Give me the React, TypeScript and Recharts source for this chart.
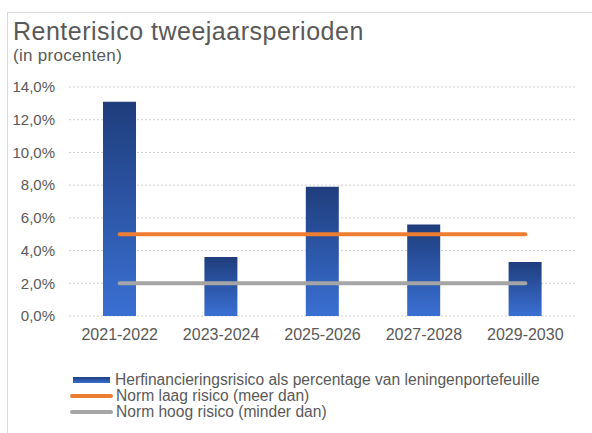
import {
  ComposedChart,
  Bar,
  Line,
  XAxis,
  YAxis,
  CartesianGrid,
} from "recharts";

const periods = ["2021-2022", "2023-2024", "2025-2026", "2027-2028", "2029-2030"];
const refinancingRisk = [13.1, 3.6, 7.9, 5.6, 3.3];
const normLow = [5, 5, 5, 5, 5];
const normHigh = [2, 2, 2, 2, 2];
const yTicks = [0, 2, 4, 6, 8, 10, 12, 14];

const legendItems = [
  { label: "Herfinancieringsrisico als percentage van leningenportefeuille", kind: "bar", color: "#2a52a8" },
  { label: "Norm laag risico (meer dan)", kind: "line", color: "#ed7d31" },
  { label: "Norm hoog risico (minder dan)", kind: "line", color: "#a5a5a5" },
];

const FONT = '"Liberation Sans", Arial, sans-serif';
const TEXT = "#595959";

const rows = periods.map((name, i) => ({
  name,
  risico: refinancingRisk[i],
  laag: normLow[i],
  hoog: normHigh[i],
}));

const fmtPct = (v: number) => v.toFixed(1).replace(".", ",") + "%";

export default function App() {
  return (
    <div
      style={{
        position: "absolute",
        left: 0,
        top: 0,
        width: 592,
        height: 433,
        background: "#fff",
        fontFamily: FONT,
        overflow: "hidden",
      }}
    >
      {/* light frame, only top and left edges visible */}
      <div
        style={{
          position: "absolute",
          left: 7,
          top: 12,
          width: 600,
          height: 440,
          borderTop: "1px solid #d9d9d9",
          borderLeft: "1px solid #d9d9d9",
        }}
      />
      <div
        style={{
          position: "absolute",
          left: 13,
          top: 18,
          fontSize: 25,
          lineHeight: "26px",
          letterSpacing: 0.5,
          color: TEXT,
          whiteSpace: "nowrap",
        }}
      >
        Renterisico tweejaarsperioden
      </div>
      <div
        style={{
          position: "absolute",
          left: 13,
          top: 48,
          fontSize: 17,
          lineHeight: "15px",
          letterSpacing: 0.3,
          color: TEXT,
          whiteSpace: "nowrap",
        }}
      >
        (in procenten)
      </div>

      <div style={{ position: "absolute", left: 0, top: 0 }}>
        <ComposedChart
          width={592}
          height={433}
          data={rows}
          margin={{ top: 87, right: 16, bottom: 87, left: 0 }}
        >
          <defs>
            <linearGradient id="barFill" x1="0" y1="0" x2="0" y2="1">
              <stop offset="0%" stopColor="#1f3d7c" />
              <stop offset="100%" stopColor="#3a70d3" />
            </linearGradient>
          </defs>
          <CartesianGrid vertical={false} stroke="#d0d0d0" strokeDasharray="2 2" />
          <XAxis
            dataKey="name"
            axisLine={false}
            tickLine={false}
            tickMargin={7}
            tick={{ fontSize: 16, fill: TEXT, fontFamily: FONT }}
          />
          <YAxis
            width={69}
            domain={[0, 14]}
            ticks={yTicks}
            axisLine={false}
            tickLine={false}
            tickMargin={8}
            tickFormatter={fmtPct}
            tick={{ fontSize: 15, fill: TEXT, fontFamily: FONT }}
          />
          <Bar dataKey="risico" fill="url(#barFill)" barSize={33} isAnimationActive={false} />
          <Line
            dataKey="laag"
            stroke="#ed7d31"
            strokeWidth={4}
            strokeLinecap="round"
            dot={false}
            activeDot={false}
            isAnimationActive={false}
          />
          <Line
            dataKey="hoog"
            stroke="#a5a5a5"
            strokeWidth={4}
            strokeLinecap="round"
            dot={false}
            activeDot={false}
            isAnimationActive={false}
          />
        </ComposedChart>
      </div>

      <div style={{ position: "absolute", left: 70, top: 372, fontSize: 15.6, color: TEXT }}>
        {legendItems.map((item) => (
          <div key={item.label} style={{ display: "flex", alignItems: "center", height: 16, lineHeight: "16px", whiteSpace: "nowrap" }}>
            {item.kind === "bar" ? (
              <span
                style={{
                  display: "inline-block",
                  width: 37,
                  height: 6,
                  marginLeft: 3,
                  marginRight: 5,
                  background: "linear-gradient(#1f3d7c, #3a70d3)",
                }}
              />
            ) : (
              <span
                style={{
                  display: "inline-block",
                  width: 43,
                  height: 4,
                  borderRadius: 2,
                  marginRight: 3,
                  background: item.color,
                }}
              />
            )}
            <span>{item.label}</span>
          </div>
        ))}
      </div>
    </div>
  );
}
